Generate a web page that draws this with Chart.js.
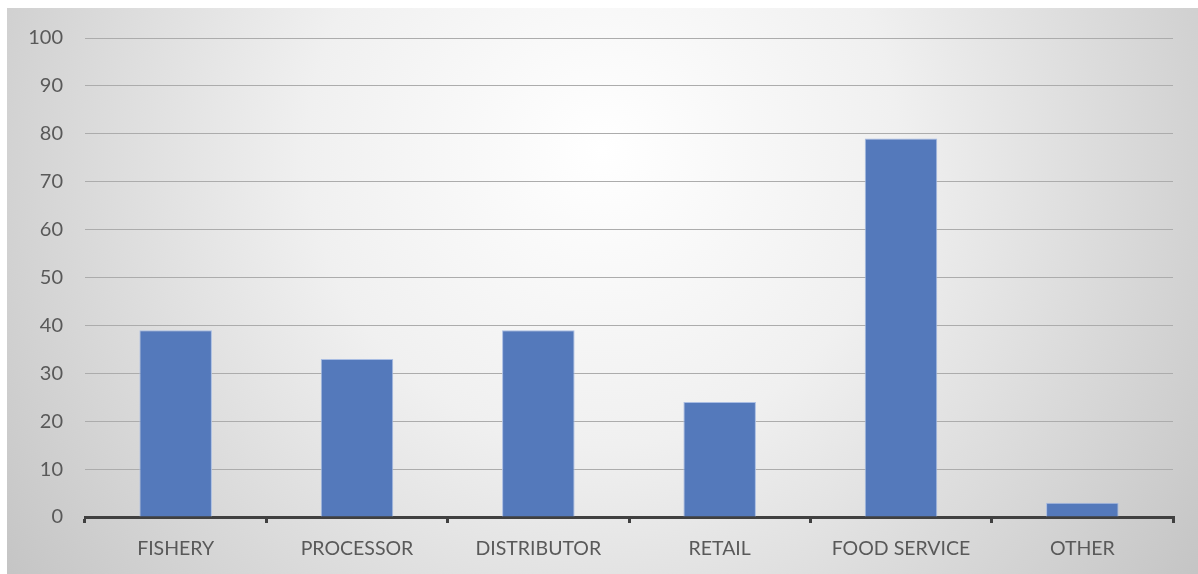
<!DOCTYPE html>
<html>
<head>
<meta charset="utf-8">
<script src="https://cdn.jsdelivr.net/npm/chart.js@4/dist/chart.umd.min.js"></script>
<style>
  html, body { margin: 0; padding: 0; background: #ffffff; }
  #wrap { position: absolute; left: 7px; top: 8px; width: 1191px; height: 566px; }
</style>
</head>
<body>
<div id="wrap"><canvas id="c"></canvas></div>
<script>
const categories = ["FISHERY", "PROCESSOR", "DISTRIBUTOR", "RETAIL", "FOOD SERVICE", "OTHER"];
const values = [39, 33, 39, 24, 79, 3];
const yTicks = [0, 10, 20, 30, 40, 50, 60, 70, 80, 90, 100];

const bgPlugin = {
  id: 'bg',
  beforeDraw(chart) {
    const ctx = chart.ctx;
    const w = chart.width, h = chart.height;
    ctx.save();
    const g = ctx.createRadialGradient(w * 0.5, h * 0.25, 0, w * 0.5, h * 0.25, w * 0.62);
    g.addColorStop(0, '#ffffff');
    g.addColorStop(0.4, '#f0f0f0');
    g.addColorStop(1, '#c4c4c4');
    ctx.fillStyle = g;
    ctx.fillRect(0, 0, w, h);
    ctx.restore();
  }
};

new Chart(document.getElementById('c'), {
  type: 'bar',
  data: {
    labels: categories,
    datasets: [{
      data: values,
      backgroundColor: '#5479bb',
      borderColor: '#a9bde3',
      borderWidth: 1,
      barPercentage: 0.4,
      categoryPercentage: 1.0
    }]
  },
  options: {
    responsive: true,
    maintainAspectRatio: false,
    animation: false,
    layout: { padding: { left: 0, right: 25, top: 30, bottom: 0 } },
    plugins: { legend: { display: false }, tooltip: { enabled: false } },
    scales: {
      x: {
        grid: {
          display: true,
          drawOnChartArea: false,
          drawTicks: true,
          tickLength: 6,
          color: '#404040',
          lineWidth: 3,
          offset: true
        },
        border: { display: true, color: '#404040', width: 3 },
        ticks: {
          color: '#595959',
          font: { family: 'Lato', size: 19.5 },
          padding: 14,
          maxRotation: 0
        },
        afterFit(scale) { scale.height = 57; scale.paddingLeft = 0; scale.paddingRight = 0; }
      },
      y: {
        min: 0,
        max: 100,
        afterBuildTicks(scale) { scale.ticks = yTicks.map(v => ({ value: v })); },
        grid: { color: '#acacac', lineWidth: 1, drawTicks: false },
        border: { display: false },
        ticks: {
          color: '#595959',
          font: { family: 'Lato', size: 20 },
          padding: 22
        },
        afterFit(scale) { scale.width = 78; scale.paddingTop = 0; scale.paddingBottom = 0; }
      }
    }
  },
  plugins: [bgPlugin]
});
</script>
</body>
</html>
